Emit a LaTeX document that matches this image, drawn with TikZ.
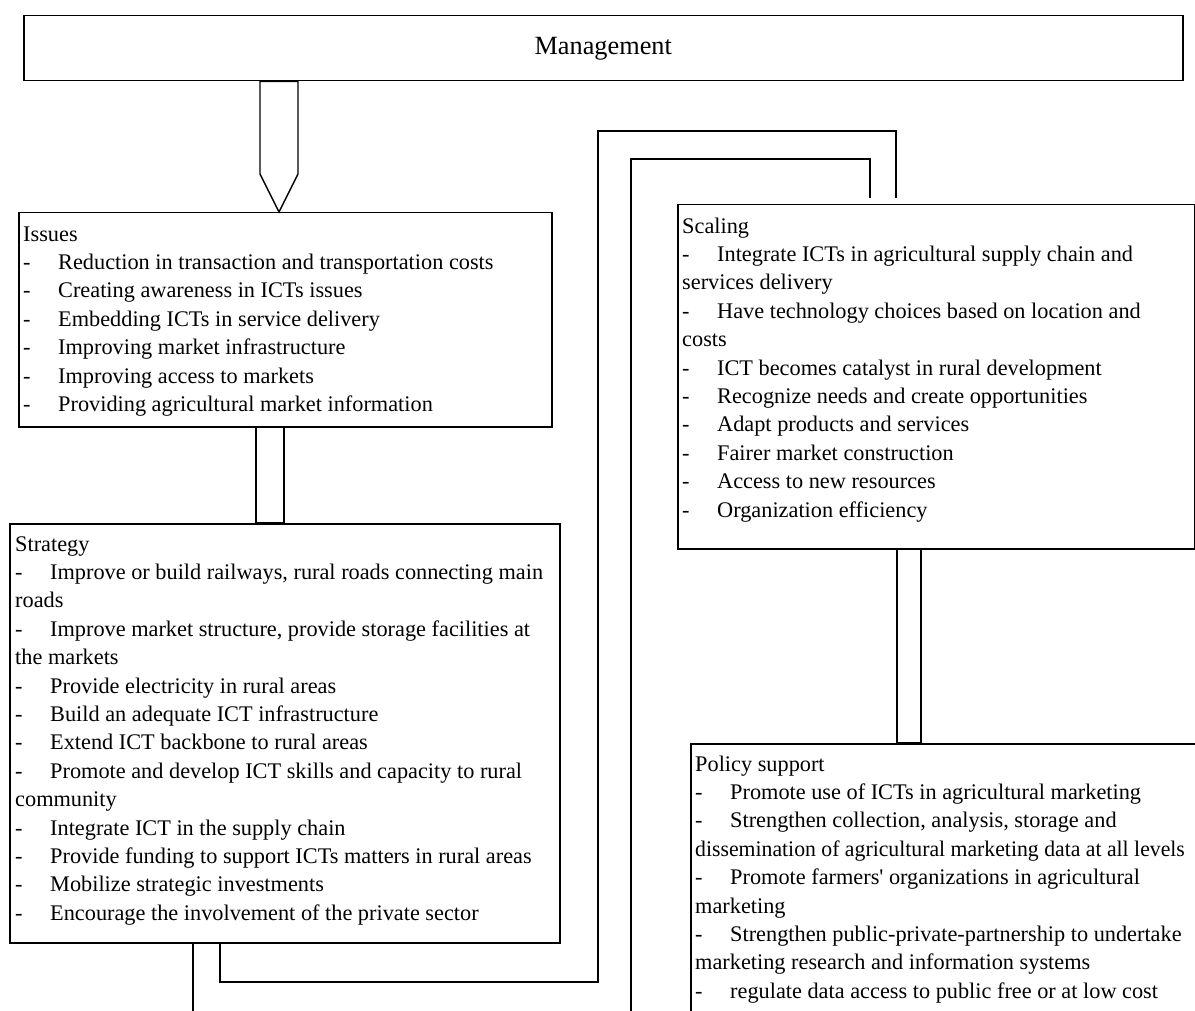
\documentclass[tikz,border=0pt]{standalone}
\usepackage{fontspec}
\usepackage{graphicx}
\setmainfont{Liberation Serif}
\usetikzlibrary{positioning,calc}
\tikzset{every picture/.style={/utils/exec={\rmfamily}}}
\tikzset{
	x=1pt, y=1pt, line width=1.4pt, line join=miter,
}
\newcommand{\dashitem}{\makebox[35pt][l]{-}}

\begin{document}
\begin{tikzpicture}[
	panel/.style={, draw, anchor=north west, inner sep=0pt, line width=1.5pt},
	listtext/.style={, align=left, inner sep=0pt, font=\fontsize{22.3}{28.4}\selectfont},
	pipe/.style={, draw, fill=white, line width=1.4pt},
	link/.style={, draw, line width=1.3pt, shorten >=6pt},
	]
	\useasboundingbox (0,0) rectangle (1195,-1011);
	\clip (0,0) rectangle (1195,-1011);

	%management
	\node[panel, minimum width=1159pt, minimum height=65pt, font=\fontsize{26.3}{30}\selectfont] (mgmt) at (23,-15) {Management};

	%issues
	\node[panel, minimum width=533pt, minimum height=214pt] (issues) at (18,-212) {};
	\node[listtext, below right=9pt and 5pt of issues.north west] (issuestxt) {\strut Issues\\
		\dashitem Reduction in transaction and transportation costs\\
		\dashitem Creating awareness in ICTs issues\\
		\dashitem Embedding ICTs in service delivery\\
		\dashitem Improving market infrastructure\\
		\dashitem Improving access to markets\\
		\dashitem Providing agricultural market information};

	%strategy
	\node[panel, minimum width=550pt, minimum height=419pt] (strategy) at (9,-523) {};
	\node[listtext, below right=8pt and 6pt of strategy.north west] (strategytxt) {\strut Strategy\\
		\dashitem Improve or build railways, rural roads connecting main\\
		roads\\
		\dashitem Improve market structure, provide storage facilities at\\
		the markets\\
		\dashitem Provide electricity in rural areas\\
		\dashitem Build an adequate ICT infrastructure\\
		\dashitem Extend ICT backbone to rural areas\\
		\dashitem Promote and develop ICT skills and capacity to rural\\
		community\\
		\dashitem Integrate ICT in the supply chain\\
		\dashitem Provide funding to support ICTs matters in rural areas\\
		\dashitem Mobilize strategic investments\\
		\dashitem Encourage the involvement of the private sector};

	%scaling
	\node[panel, minimum width=517pt, minimum height=344pt] (scaling) at (677,-204) {};
	\node[listtext, below right=9pt and 5pt of scaling.north west] (scalingtxt) {\strut Scaling\\
		\dashitem Integrate ICTs in agricultural supply chain and\\
		services delivery\\
		\dashitem Have technology choices based on location and\\
		costs\\
		\dashitem ICT becomes catalyst in rural development\\
		\dashitem Recognize needs and create opportunities\\
		\dashitem Adapt products and services\\
		\dashitem Fairer market construction\\
		\dashitem Access to new resources\\
		\dashitem Organization efficiency};

	%policy
	\node[panel, minimum width=530pt, minimum height=300pt] (policy) at (690,-743) {};
	\node[listtext, below right=8pt and 5pt of policy.north west] (policytxt) {\strut Policy support\\
		\dashitem Promote use of ICTs in agricultural marketing\\
		\dashitem Strengthen collection, analysis, storage and\\
		\scalebox{0.975}[1]{dissemination of agricultural marketing data at all levels}\\
		\dashitem Promote farmers\textquotesingle{} organizations in agricultural\\
		marketing\\
		\dashitem Strengthen public-private-partnership to undertake\\
		marketing research and information systems\\
		\dashitem regulate data access to public free or at low cost};

	%block arrow
	\coordinate (tip) at (279,0 |- issues.north);
	\draw[pipe] (tip) -- ++(-19,38) -- (260,0 |- mgmt.south) -- (298,0 |- mgmt.south) -- ($(tip)+(19,38)$) -- cycle;

	%pipes
	\draw[pipe] (256,0 |- issues.south) rectangle (284,0 |- strategy.north);
	\draw[pipe] (897,0 |- scaling.south) rectangle (921,0 |- policy.north);

	%brackets
	\coordinate (cutA) at (193,-1011);
	\coordinate (cutB) at (631,-1011);
	\draw[link, shorten >=0pt] (193,0 |- strategy.south) -- (cutA);
	\draw[link] (220,0 |- strategy.south) |- (598,-982) |- (896,-131) -- (896,0 |- scaling.north);
	\draw[link] (cutB) |- (870,-159) -- (870,0 |- scaling.north);

\end{tikzpicture}
\end{document}
